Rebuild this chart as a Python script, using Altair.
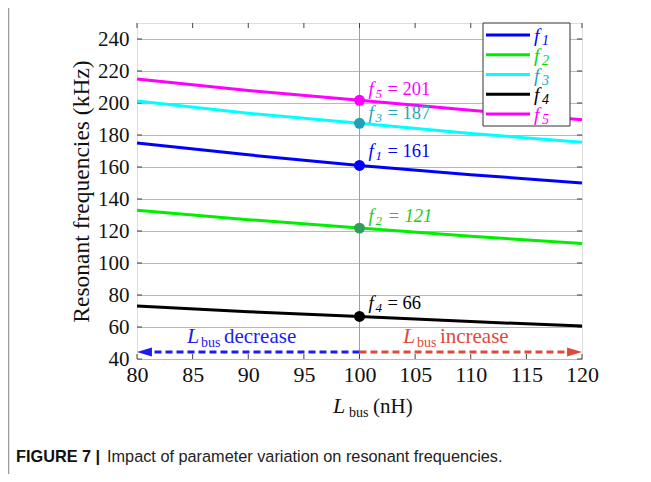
import altair as alt
import pandas as pd

# ---------------- data ----------------
L_values = [80, 90, 100, 110, 120]
series_names = ["f1", "f2", "f3", "f4", "f5"]
series_subs = ["1", "2", "3", "4", "5"]
f1 = [175.0, 167.6, 161.0, 155.2, 150.0]
f2 = [133.0, 127.1, 121.8, 116.7, 112.2]
f3 = [201.2, 193.6, 187.3, 181.0, 175.4]
f4 = [73.2, 69.6, 66.6, 63.4, 60.6]
f5 = [215.0, 207.8, 201.7, 195.4, 189.5]
line_colors = ["#0000ff", "#00ee00", "#00ffff", "#000000", "#ff00ff"]
legend_label_colors = ["#0000ff", "#00dd00", "#1aa8c0", "#000000", "#ff00ff"]

marker_L = 100
marker_values = [161.0, 121.8, 187.3, 66.6, 201.7]
marker_colors = ["#0000ff", "#2e9e5a", "#1fa0b8", "#000000", "#ff00ff"]
label_texts = ["= 161", "= 121", "= 187", "= 66", "= 201"]
label_baseline_y = [166.3, 125.6, 190.0, 71.3, 205.0]
label_colors = ["#0000ff", "#1ccc1c", "#1fa8b8", "#000000", "#ff00ff"]
label_styles = ["normal", "italic", "normal", "normal", "normal"]

x_ticks = [80, 85, 90, 95, 100, 105, 110, 115, 120]
y_ticks = [40, 60, 80, 100, 120, 140, 160, 180, 200, 220, 240]
x_domain = [80, 120]
y_domain = [40, 250]

arrow_y = 44.4
SERIF = "Liberation Serif"

# ---------------- tables ----------------
series_values = [f1, f2, f3, f4, f5]
lines_df = pd.DataFrame(
    [{"L": L, "f": v, "series": s}
     for s, vals in zip(series_names, series_values)
     for L, v in zip(L_values, vals)]
)
marker_df = pd.DataFrame({
    "L": [marker_L] * 5, "f": marker_values, "color": marker_colors,
    "ly": label_baseline_y, "sub": series_subs, "txt": label_texts,
    "lcolor": label_colors, "style": label_styles,
})
legend_df = pd.DataFrame({"i": list(range(5)), "sub": series_subs,
                          "lc": line_colors, "tc": legend_label_colors})

W, H = 445, 336
xs = alt.Scale(domain=x_domain, nice=False, zero=False)
ys = alt.Scale(domain=y_domain, nice=False, zero=False)

x_axis = alt.Axis(values=x_ticks, grid=False, ticks=False, domain=False, title=None,
                  labelFont=SERIF, labelFontSize=22, labelColor="#111", labelPadding=5,
                  labelFlush=False)
y_axis = alt.Axis(values=y_ticks, grid=True, gridColor="#b8b8b8", gridWidth=1,
                  ticks=False, domain=False, title="Resonant frequencies (kHz)",
                  titleFont=SERIF, titleFontSize=23.5, titleFontWeight="normal",
                  titleColor="#111", titlePadding=4,
                  labelFont=SERIF, labelFontSize=21, labelColor="#111", labelPadding=8)

X = lambda f="L": alt.X(f"{f}:Q", scale=xs, axis=x_axis)
Y = lambda f="f": alt.Y(f"{f}:Q", scale=ys, axis=y_axis)

# vertical line at 100
vline = alt.Chart(pd.DataFrame({"L": [marker_L]})).mark_rule(color="#a0a0a0", strokeWidth=1).encode(
    x=X())

# inward ticks
tick_len_y = 5 / 1.6
tick_len_x = 5 / (W / 40)
xt = pd.DataFrame({"L": x_ticks})
bottom_ticks = alt.Chart(xt).mark_rule(color="#444").encode(
    x=X(), y=Y("y0"), y2="y1:Q"
).transform_calculate(y0=str(y_domain[0]), y1=str(y_domain[0] + tick_len_y))
top_ticks = alt.Chart(xt).mark_rule(color="#444").encode(
    x=X(), y=Y("y0"), y2="y1:Q"
).transform_calculate(y0=str(y_domain[1]), y1=str(y_domain[1] - tick_len_y))
yt = pd.DataFrame({"f": y_ticks})
left_ticks = alt.Chart(yt).mark_rule(color="#444").encode(
    y=Y(), x=X("x0"), x2="x1:Q"
).transform_calculate(x0=str(x_domain[0]), x1=str(x_domain[0] + tick_len_x))
right_ticks = alt.Chart(yt).mark_rule(color="#444").encode(
    y=Y(), x=X("x0"), x2="x1:Q"
).transform_calculate(x0=str(x_domain[1]), x1=str(x_domain[1] - tick_len_x))

lines = alt.Chart(lines_df).mark_line(strokeWidth=3).encode(
    x=X(), y=Y(),
    color=alt.Color("series:N", scale=alt.Scale(domain=series_names, range=line_colors),
                    legend=None),
)

points = alt.Chart(marker_df).mark_circle(size=120, opacity=1).encode(
    x=X(), y=Y(), color=alt.Color("color:N", scale=None, legend=None))

ann_base = alt.Chart(marker_df).encode(
    x=X(), y=Y("ly"), color=alt.Color("lcolor:N", scale=None, legend=None))
ann_f = ann_base.mark_text(align="left", baseline="alphabetic", dx=9, font=SERIF,
                           fontSize=19, fontStyle="italic").encode(text=alt.value("f"))
ann_sub = ann_base.mark_text(align="left", baseline="alphabetic", dx=16, dy=3, font=SERIF,
                             fontSize=13, fontStyle="italic").encode(text="sub:N")
ann_val_n = ann_base.mark_text(align="left", baseline="alphabetic", dx=28, font=SERIF,
                               fontSize=18.5).encode(text="txt:N").transform_filter(
    alt.datum.style == "normal")
ann_val_i = ann_base.mark_text(align="left", baseline="alphabetic", dx=28, font=SERIF,
                               fontSize=18.5, fontStyle="italic").encode(text="txt:N").transform_filter(
    alt.datum.style == "italic")

# arrows
blue = "#1c1cf0"
red = "#e04a3a"
arr_df = pd.DataFrame({"a": [marker_L], "b": [80.9], "c": [119.1], "y": [arrow_y]})
blue_line = alt.Chart(arr_df).mark_rule(color=blue, strokeWidth=3, strokeDash=[7, 4]).encode(
    x=X("a"), x2="b:Q", y=Y("y"))
red_line = alt.Chart(arr_df).mark_rule(color=red, strokeWidth=3, strokeDash=[7, 4]).encode(
    x=X("a"), x2="c:Q", y=Y("y"))
heads_df = pd.DataFrame({"L": [80.67, 119.33], "y": [arrow_y, arrow_y],
                         "col": [blue, red],
                         "shp": ["M-1,0L1,-0.6L1,0.6Z", "M1,0L-1,-0.6L-1,0.6Z"]})
heads = alt.Chart(heads_df).mark_point(filled=True, size=225, opacity=1, strokeWidth=0).encode(
    x=X(), y=Y("y"), color=alt.Color("col:N", scale=None, legend=None),
    shape=alt.Shape("shp:N", scale=None, legend=None))

arrow_text_df = pd.DataFrame({"L": [84.49, 103.9], "y": [50.0, 50.0], "col": [blue, red],
                              "word": ["decrease", "increase"]})
at_base = alt.Chart(arrow_text_df).encode(
    x=X(), y=Y("y"), color=alt.Color("col:N", scale=None, legend=None))
at_L = at_base.mark_text(align="left", baseline="alphabetic", font=SERIF, fontSize=22,
                         fontStyle="italic").encode(text=alt.value("L"))
at_bus = at_base.mark_text(align="left", baseline="alphabetic", dx=14, dy=4, font=SERIF,
                           fontSize=14).encode(text=alt.value("bus"))
at_word = at_base.mark_text(align="left", baseline="alphabetic", dx=37, font=SERIF,
                            fontSize=21).encode(text="word:N")

# x title
xt_df = pd.DataFrame({"L": [97.62], "y": [6.25]})
xt_base = alt.Chart(xt_df).encode(x=X(), y=Y("y"))
xt_L = xt_base.mark_text(align="left", baseline="alphabetic", font=SERIF, fontSize=22,
                         fontStyle="italic", color="#111").encode(text=alt.value("L"))
xt_bus = xt_base.mark_text(align="left", baseline="alphabetic", dx=16, dy=4, font=SERIF,
                           fontSize=14, color="#111").encode(text=alt.value("bus"))
xt_unit = xt_base.mark_text(align="left", baseline="alphabetic", dx=40, font=SERIF,
                            fontSize=21, color="#111").encode(text=alt.value("(nH)"))

# manual legend (in pixels of the plot area)
leg_box = alt.Chart(pd.DataFrame({"k": [0]})).mark_rect(
    fill="white", stroke="#333", strokeWidth=1).encode(
    x=alt.value(346), x2=alt.value(433), y=alt.value(0), y2=alt.value(103))
leg_base = alt.Chart(legend_df).transform_calculate(py="12 + 19.75 * datum.i")
leg_lines = leg_base.mark_rule(strokeWidth=3).encode(
    x=alt.value(349), x2=alt.value(393), y=alt.Y("py:Q", scale=None, axis=None),
    color=alt.Color("lc:N", scale=None, legend=None))
leg_f = leg_base.mark_text(align="left", baseline="alphabetic", dy=7, font=SERIF, fontSize=19.5,
                           fontStyle="italic").encode(
    x=alt.value(397), y=alt.Y("py:Q", scale=None, axis=None), text=alt.value("f"),
    color=alt.Color("tc:N", scale=None, legend=None))
leg_sub = leg_base.mark_text(align="left", baseline="alphabetic", dy=10, font=SERIF, fontSize=14,
                             fontStyle="italic").encode(
    x=alt.value(405), y=alt.Y("py:Q", scale=None, axis=None), text="sub:N",
    color=alt.Color("tc:N", scale=None, legend=None))

# caption
cap_font = "Liberation Sans"
cap_df = pd.DataFrame({"k": [0]})
cap_bold = alt.Chart(cap_df).mark_text(align="left", baseline="alphabetic", font=cap_font,
                                       fontSize=16.3, fontWeight="bold", color="#111").encode(
    x=alt.value(-121), y=alt.value(439), text=alt.value("FIGURE 7 |"))
cap_rest = alt.Chart(cap_df).mark_text(align="left", baseline="alphabetic", font=cap_font,
                                       fontSize=16.3, color="#222").encode(
    x=alt.value(-30), y=alt.value(439),
    text=alt.value("Impact of parameter variation on resonant frequencies."))
frame_left = alt.Chart(cap_df).mark_rule(color="#9a9a9a", strokeWidth=1.5).encode(
    x=alt.value(-128.5), y=alt.value(-15), y2=alt.value(451))

chart = alt.layer(
    vline, bottom_ticks, top_ticks, left_ticks, right_ticks,
    lines, points, ann_f, ann_sub, ann_val_n, ann_val_i,
    blue_line, red_line, heads, at_L, at_bus, at_word,
    xt_L, xt_bus, xt_unit, leg_box, leg_lines, leg_f, leg_sub,
    cap_bold, cap_rest, frame_left,
).properties(
    width=W, height=H,
    padding={"left": 129, "top": 15, "right": 61, "bottom": 115},
    autosize=alt.AutoSizeParams(type="none"),
).configure_view(stroke="#444", strokeWidth=1).configure(background="white")

chart.save("out.html", embed_options={"renderer": "svg", "actions": False})
